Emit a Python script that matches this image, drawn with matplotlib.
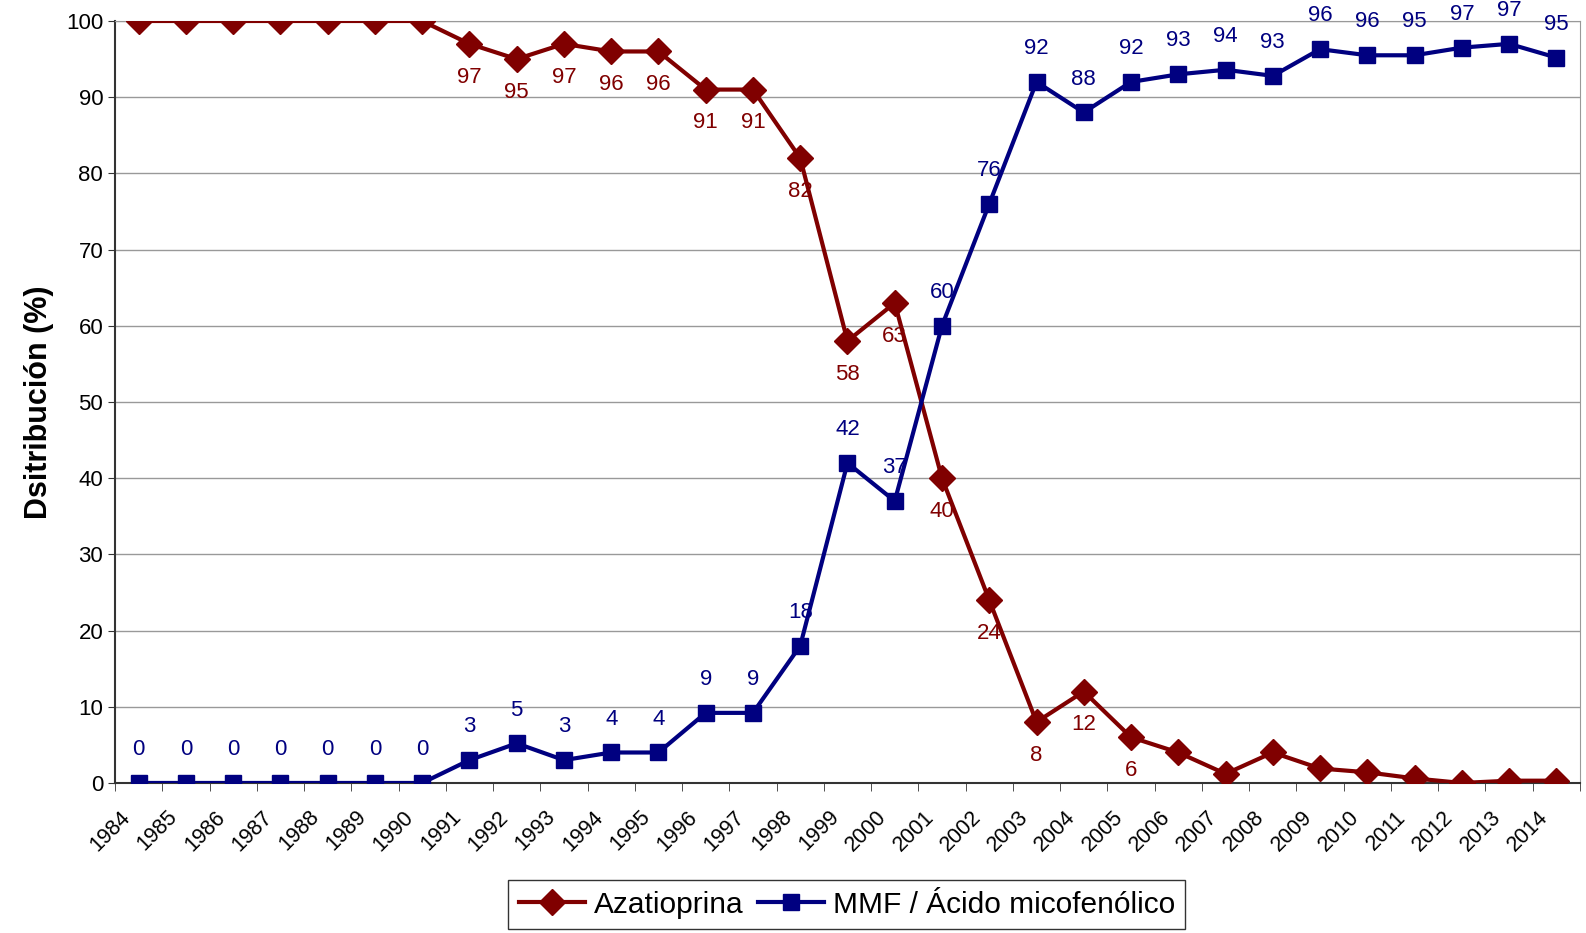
import matplotlib.pyplot as plt
import matplotlib.transforms as mtransforms
import numpy as np

# Data
years = [str(y) for y in range(1984, 2015)]
azatioprina = [100, 100, 100, 100, 100, 100, 100, 97, 95, 97, 96, 96, 91, 91, 82, 58,
               63, 40, 24, 8, 12, 6, 4, 1.2, 4, 1.9, 1.4, 0.6, 0, 0.3, 0.3]
mmf = [0, 0, 0, 0, 0, 0, 0, 3, 5.2, 3, 4, 4, 9.2, 9.2, 18, 42,
       37, 60, 76, 92, 88, 92, 93, 93.6, 92.8, 96.3, 95.5, 95.5, 96.5, 97, 95.2]
aza_labels = [None] * 7 + ["97", "95", "97", "96", "96", "91", "91", "82", "58",
                           "63", "40", "24", "8", "12", "6"] + [None] * 9
mmf_labels = ["0"] * 7 + ["3", "5", "3", "4", "4", "9", "9", "18", "42",
                          "37", "60", "76", "92", "88", "92", "93", "94", "93", "96",
                          "96", "95", "97", "97", "95"]

red = "#800000"
blue = "#000080"

plt.rcParams['font.family'] = ['Liberation Sans', 'DejaVu Sans']

fig = plt.figure(figsize=(15.86, 9.33), dpi=100)
ax = fig.add_axes([0.0725, 0.1608, 0.9237, 0.8167])

x = np.arange(len(years))
ax.plot(x, azatioprina, color=red, lw=3, marker="D", markersize=13, label="Azatioprina", zorder=3)
ax.plot(x, mmf, color=blue, lw=3, marker="s", markersize=12, label="MMF / Ácido micofenólico", zorder=3)

# data labels: azatioprina below, mmf above
for xi, v, lab in zip(x, azatioprina, aza_labels):
    if lab is not None:
        ax.annotate(lab, (xi, v), xytext=(0, -24), textcoords="offset points",
                    ha="center", va="center", color=red, fontsize=16)
for xi, v, lab in zip(x, mmf, mmf_labels):
    ax.annotate(lab, (xi, v), xytext=(0, 24), textcoords="offset points",
                ha="center", va="center", color=blue, fontsize=16)

ax.set_xlim(-0.5, len(years) - 0.5)
ax.set_ylim(0, 100)
ax.set_yticks(range(0, 101, 10))
ax.tick_params(axis="y", labelsize=16, length=5, color="#333333")
ax.set_xticks(x)
ax.set_xticklabels(years, rotation=45, ha="right", va="top", fontsize=15.5)
ax.tick_params(axis="x", length=0, pad=17)
shift = mtransforms.ScaledTranslation(-4 / 100, 0, fig.dpi_scale_trans)
for lbl in ax.get_xticklabels():
    lbl.set_transform(lbl.get_transform() + shift)
ax.set_xticks(np.arange(-0.5, len(years)), minor=True)
ax.tick_params(axis="x", which="minor", length=6, color="#333333")

ax.grid(axis="y", color="#999999", lw=1)
ax.set_axisbelow(True)
for side in ["top", "right"]:
    ax.spines[side].set_color("#999999")
for side in ["left", "bottom"]:
    ax.spines[side].set_color("#333333")
    ax.spines[side].set_linewidth(1.5)

ax.set_ylabel("Dsitribución (%)", fontsize=22, fontweight="bold")
ax.yaxis.set_label_coords(-0.0415, 0.5)

leg = fig.legend(loc="lower center", bbox_to_anchor=(0.534, 0.004), ncol=2, fontsize=21.5,
                 frameon=True, fancybox=False, edgecolor="black", handlelength=2.2,
                 columnspacing=0.5, handletextpad=0.3, borderpad=0.35, borderaxespad=0)
leg.get_frame().set_linewidth(1)

fig.savefig("out.png", dpi=100)
